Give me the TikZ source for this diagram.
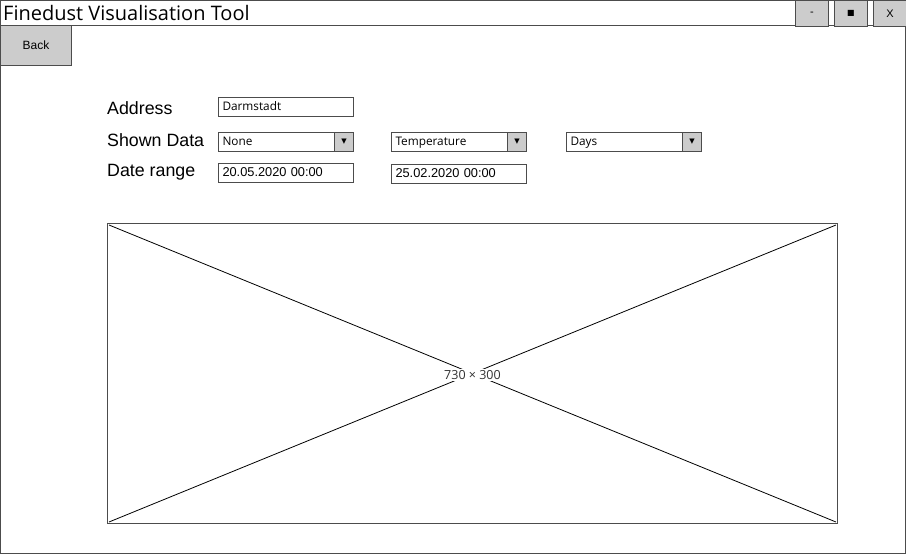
\documentclass[tikz,border=0pt]{standalone}
\usepackage{fontspec}
\setmainfont{Liberation Sans}
\newfontfamily\handfont{Open Sans}
\newfontfamily\symfont{DejaVu Sans}
\usetikzlibrary{positioning}
\definecolor{btngray}{rgb}{.8,.8,.8}
\definecolor{edge}{rgb}{.3,.3,.3}

\tikzset{
  field/.style={draw=edge, line width=1pt, fill=white, anchor=north west,
    minimum height=19pt, text width=127pt, text height=8.5pt, text depth=2.5pt,
    inner xsep=4pt, inner ysep=2pt, align=left,
    font=\handfont\fontsize{11.8}{12}\selectfont},
  datefield/.style={field, font=\fontsize{12.8}{13}\selectfont},
  dropbtn/.style={draw=edge, line width=1pt, fill=btngray, anchor=north east,
    minimum width=19pt, minimum height=19pt, inner sep=0pt,
    font=\symfont\fontsize{7}{7}\selectfont},
  winbtn/.style={draw=edge, line width=1pt, fill=btngray, anchor=north west,
    minimum width=33pt, minimum height=26pt, inner sep=0pt,
    font=\fontsize{11}{11}\selectfont},
  lbl/.style={anchor=west, inner sep=0pt, font=\fontsize{17.8}{18}\selectfont}
}

\begin{document}
\begin{tikzpicture}[x=1pt,y=-1pt]
  \useasboundingbox (0,0) rectangle (906,554);
  % window
  \draw[edge, line width=1pt] (0.5,0.5) rectangle (905.5,553.5);
  \draw[edge, line width=1pt] (0.5,25.5) -- (905.5,25.5);
  \node[anchor=west, inner sep=0pt, font=\handfont\fontsize{20}{20}\selectfont] (title) at (3,13) {Finedust Visualisation Tool};

  \node[winbtn] (minbtn) at (795,0) {-};
  \node[winbtn] (maxbtn) at (834,0) {\symfont\fontsize{8}{8}\selectfont ■};
  \node[winbtn] (closebtn) at (873,0) {X};

  \node[draw=edge, line width=1pt, fill=btngray, anchor=north west, minimum width=71pt,
    minimum height=40pt, font=\fontsize{12}{12}\selectfont] (back) at (0,25) {Back};

  % form
  \node[lbl] (address) at (107,108) {Address};
  \node[lbl] (shown) at (107,140) {Shown Data};
  \node[lbl] (range) at (107,172) {Date range};

  \node[field] (addrfield) at (218,97) {Darmstadt};

  \node[field] (none) at (218,132) {None};
  \node[dropbtn] (nonebtn) at (none.north east) {▼};
  \node[field] (temp) at (391,132) {Temperature};
  \node[dropbtn] (tempbtn) at (temp.north east) {▼};
  \node[field] (days) at (566,132) {Days};
  \node[dropbtn] (daysbtn) at (days.north east) {▼};

  \node[datefield] (from) at (218,163) {20.05.2020 00:00};
  \node[datefield] (to) at (391,164) {25.02.2020 00:00};

  % chart placeholder
  \node[draw=edge, line width=1pt, anchor=north west, minimum width=730pt,
    minimum height=300pt] (chart) at (107,223) {};
  \draw[line width=0.8pt] ([shift={(2,2)}]chart.north west) -- ([shift={(-2,-2)}]chart.south east);
  \draw[line width=0.8pt] ([shift={(-2,2)}]chart.north east) -- ([shift={(2,-2)}]chart.south west);
  \node[fill=white, inner sep=1pt, text=black!80, font=\handfont\fontsize{12.5}{13}\selectfont] (size) at ([yshift=-1.5pt]chart.center) {730 × 300};

\end{tikzpicture}
\end{document}
